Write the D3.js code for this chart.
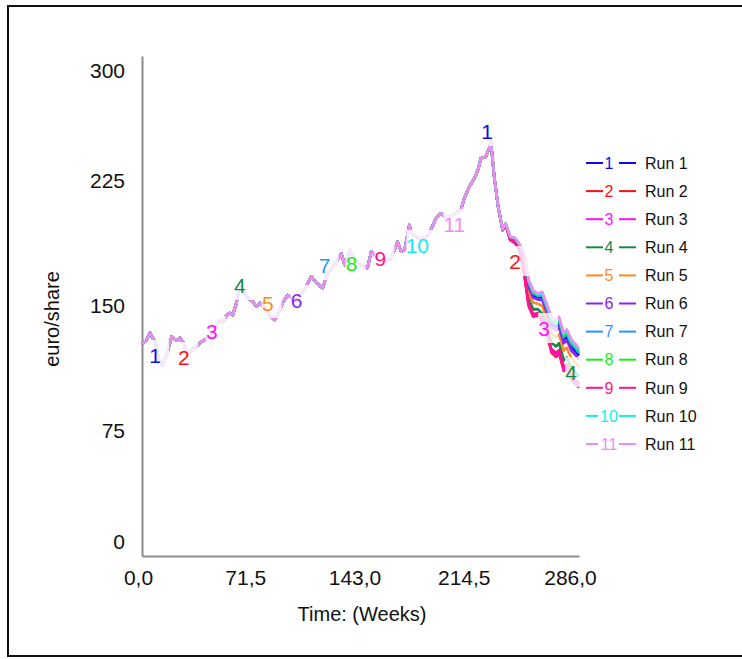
<!DOCTYPE html>
<html>
<head>
<meta charset="utf-8">
<script src="https://cdn.jsdelivr.net/npm/d3@7"></script>
<style>
  body { margin: 0; background: #fff; }
  svg { display: block; font-family: "Liberation Sans", Arial, sans-serif; }
</style>
</head>
<body>
<svg id="chart" width="742" height="659"></svg>
<script>
// Share price path common to every run (weeks, euro/share)
const sharedWeeks = [0, 2.5, 5.2, 8.5, 11, 13.7, 16.5, 19.4, 22.7, 24.8, 26.8, 30, 32.5, 36, 39, 41, 44, 47,
  50.9, 53, 55.3, 57.5, 59.4, 61.8, 64, 66, 69, 72.5, 74.9, 77, 80, 83, 86.8, 89.5, 92, 95.3, 98, 101, 104,
  107.5, 110.8, 114, 118.2, 121, 124.7, 127, 130.4, 132.6, 135.9, 139, 142, 145, 147.6, 150, 153, 156,
  159.8, 162.5, 165.2, 167.2, 169.6, 172, 175, 176.1, 179, 183, 186, 188, 192.4, 195.7, 199, 202, 205.5,
  208.7, 210.9, 214.2, 216.3, 218.5, 220, 221.8, 225, 227.2, 228.3, 230.5, 233];
const sharedPrice = [127.6, 129, 133.8, 128.4, 118, 114.6, 122, 131.6, 129.2, 130.8, 128.4, 120.6, 123.6, 126,
  128.6, 129.6, 131, 135.5, 141.6, 140.5, 144.6, 145.8, 144.6, 151.8, 162.6, 159.6, 155, 152.6, 149.6, 151.8,
  149, 145, 141.6, 146, 151.8, 156.6, 155, 153, 157, 161.6, 167.6, 164, 160.8, 168, 173.6, 176, 181.6, 174.6,
  183.6, 178, 175, 174, 172.8, 182.6, 180, 178, 176.6, 178, 183.6, 188.6, 182.6, 184, 198.6, 193.8, 192, 190,
  191.5, 193.6, 202.6, 205.6, 203, 204, 206, 207.6, 214.6, 221.6, 224.6, 228.6, 232, 238.6, 239.6, 244.6,
  248.6, 227.6, 210];

// Weeks after the runs separate, and each run's price there
const tailWeeks = [236, 238, 241, 244, 247, 250, 253, 256, 259, 262, 265, 268, 271, 273, 276, 278, 281, 284, 286];
const tailRun1  = [195.9, 199.3, 191.1, 190.5, 186.4, 180.7, 163.1, 156.6, 155.2, 155.3, 147.8, 139.6, 137.5, 139.5, 129.9, 131.8, 125.7, 122.7, 120.3];
const tailRun2  = [195.5, 198.5, 189.5, 188.0, 183.5, 170.0, 150.0, 143.5, 144.5, 140.5, 133.0, 122.0, 119.5, 121.5, 111.0, 112.5, 106.0, 103.0, 101.0];
const tailRun3  = [195.5, 198.5, 189.6, 188.1, 183.6, 170.5, 150.6, 144.1, 145.0, 141.2, 133.7, 122.9, 120.4, 122.4, 111.9, 113.4, 107.0, 104.0, 101.9];
const tailRun4  = [195.6, 198.8, 190.1, 188.8, 184.5, 173.6, 154.5, 148.0, 148.1, 145.5, 138.0, 128.0, 125.7, 127.7, 117.4, 119.1, 112.7, 109.7, 107.6];
const tailRun5  = [195.8, 199.0, 190.6, 189.6, 185.4, 176.9, 158.5, 152.0, 151.4, 150.0, 142.5, 133.4, 131.2, 133.2, 123.2, 125.0, 118.7, 115.7, 113.5];
const tailRun6  = [195.9, 199.2, 190.9, 190.2, 186.0, 179.4, 161.5, 155.0, 153.9, 153.5, 146.0, 137.5, 135.3, 137.3, 127.6, 129.4, 123.3, 120.3, 117.9];
const tailRun7  = [195.9, 199.4, 191.3, 190.6, 186.6, 181.4, 164.1, 157.6, 155.9, 156.3, 148.8, 140.9, 138.9, 140.9, 131.2, 133.2, 127.1, 124.1, 121.7];
const tailRun8  = [196.0, 199.4, 191.3, 190.8, 186.7, 182.0, 164.7, 158.2, 156.5, 157.1, 149.6, 141.8, 139.7, 141.7, 132.2, 134.1, 128.1, 125.1, 122.6];
const tailRun9  = [195.6, 198.6, 189.7, 188.3, 183.9, 171.3, 151.6, 145.1, 145.8, 142.3, 134.8, 124.2, 121.7, 123.7, 113.3, 114.9, 108.4, 105.4, 103.4];
const tailRun10 = [196.0, 199.5, 191.4, 190.9, 186.9, 182.5, 165.4, 158.9, 157.0, 157.8, 150.3, 142.6, 140.6, 142.6, 133.1, 135.1, 129.0, 126.0, 123.6];
const tailRun11 = [196.0, 199.5, 191.5, 191.0, 187.0, 183.0, 166.0, 159.5, 157.5, 158.5, 151.0, 143.5, 141.5, 143.5, 134.0, 136.0, 130.0, 127.0, 124.5];

const runNames  = ["Run 1", "Run 2", "Run 3", "Run 4", "Run 5", "Run 6", "Run 7", "Run 8", "Run 9", "Run 10", "Run 11"];
const runColors = ["#0a0aee", "#ff1010", "#ff10ff", "#128a48", "#ff8a22", "#8a22f0", "#2896ff", "#18ee18", "#ff1488", "#10eeee", "#f08cf0"];
const runTails  = [tailRun1, tailRun2, tailRun3, tailRun4, tailRun5, tailRun6, tailRun7, tailRun8, tailRun9, tailRun10, tailRun11];

// Run-number markers placed along the curves
const markerRuns   = [1, 2, 3, 4, 5, 6, 7, 8, 9, 10, 11, 1, 2, 3, 4];
const markerWeeks  = [8.5, 27.4, 45.7, 64, 82.3, 101.2, 119.5, 137.1, 156, 180.2, 204.4, 225.9, 244.2, 263.1, 280.8];
const markerValues = [120.6, 119.4, 135, 162.6, 151.8, 153.6, 174.6, 175.8, 178.8, 186.6, 199.2, 255, 177, 136.8, 110.4];

const xTicks = [0, 71.5, 143, 214.5, 286];
const xTickLabels = ["0,0", "71,5", "143,0", "214,5", "286,0"];
const yTicks = [0, 75, 150, 225, 300];

const svg = d3.select("#chart");

// outer frame
svg.append("rect")
  .attr("x", 8).attr("y", 6).attr("width", 745).attr("height", 650)
  .attr("fill", "none").attr("stroke", "#111").attr("stroke-width", 2);

const x = d3.scaleLinear().domain([0, 286]).range([142, 579]);
const y = d3.scaleLinear().domain([0, 300]).range([556, 56]);

// axes
const yAxis = svg.append("g").attr("transform", "translate(142,0)")
  .call(d3.axisLeft(y).tickValues(yTicks).tickSize(0).tickPadding(17).tickFormat(d3.format("d")));
const xAxis = svg.append("g").attr("transform", "translate(0,556)")
  .call(d3.axisBottom(x).tickValues(xTicks).tickSize(0).tickPadding(14)
    .tickFormat((d, i) => xTickLabels[i]));

[yAxis, xAxis].forEach(g => {
  g.select(".domain").attr("stroke", "#8c8c8c").attr("stroke-width", 2);
  g.selectAll("text").attr("font-size", 21).attr("fill", "#111")
    .attr("font-family", "'Liberation Sans', Arial, sans-serif");
});
yAxis.selectAll(".tick text").attr("dy", d => d === 300 ? "1.0em" : d === 0 ? "-0.38em" : "0.32em");
xAxis.selectAll(".tick text").attr("dx", (d, i) => i === 0 ? -4 : i === 4 ? -9 : -6);

svg.append("text")
  .attr("x", 362).attr("y", 621).attr("text-anchor", "middle")
  .attr("font-size", 20).attr("fill", "#111").text("Time: (Weeks)");
svg.append("text")
  .attr("transform", "translate(59,319) rotate(-90)").attr("text-anchor", "middle")
  .attr("font-size", 20).attr("fill", "#111").text("euro/share");

// series
const runs = runNames.map((name, i) => {
  const pts = sharedWeeks.map((w, j) => ({ w, v: sharedPrice[j] }))
    .concat(tailWeeks.map((w, j) => ({ w, v: runTails[i][j] })));
  return { id: i + 1, name, color: runColors[i], pts };
});

const line = d3.line().x(d => x(d.w)).y(d => y(d.v));
svg.append("g").selectAll("path").data(runs).join("path")
  .attr("d", d => line(d.pts))
  .attr("fill", "none")
  .attr("stroke", d => d.color)
  .attr("stroke-width", 2.6)
  .attr("stroke-linejoin", "round");

// run-number markers with a soft white backing
const mg = svg.append("g");
markerRuns.forEach((r, i) => {
  const cx = x(markerWeeks[i]), cy = y(markerValues[i]);
  const label = String(r);
  const w = label.length > 1 ? 30 : 20;
  mg.append("rect")
    .attr("x", cx - w / 2 + 4).attr("y", cy - 15).attr("width", w).attr("height", 30)
    .attr("fill", "#fff").attr("opacity", 0.78);
  mg.append("text")
    .attr("x", cx).attr("y", cy).attr("dy", "0.36em").attr("text-anchor", "middle")
    .attr("font-size", 21).attr("fill", runColors[r - 1]).text(label);
});

// legend
const lg = svg.append("g");
runs.forEach((d, i) => {
  const cy = 163 + i * 28.1;
  const lab = String(d.id);
  const half = lab.length > 1 ? 10 : 5;
  lg.append("line").attr("x1", 586).attr("x2", 608 - half).attr("y1", cy).attr("y2", cy)
    .attr("stroke", d.color).attr("stroke-width", 2);
  lg.append("text").attr("x", 609).attr("y", cy).attr("dy", "0.36em").attr("text-anchor", "middle")
    .attr("font-size", 16).attr("fill", d.color).text(lab);
  lg.append("line").attr("x1", 619).attr("x2", 636).attr("y1", cy).attr("y2", cy)
    .attr("stroke", d.color).attr("stroke-width", 2);
  lg.append("text").attr("x", 645).attr("y", cy).attr("dy", "0.36em")
    .attr("font-size", 16).attr("fill", "#111").text(d.name);
});
</script>
</body>
</html>
